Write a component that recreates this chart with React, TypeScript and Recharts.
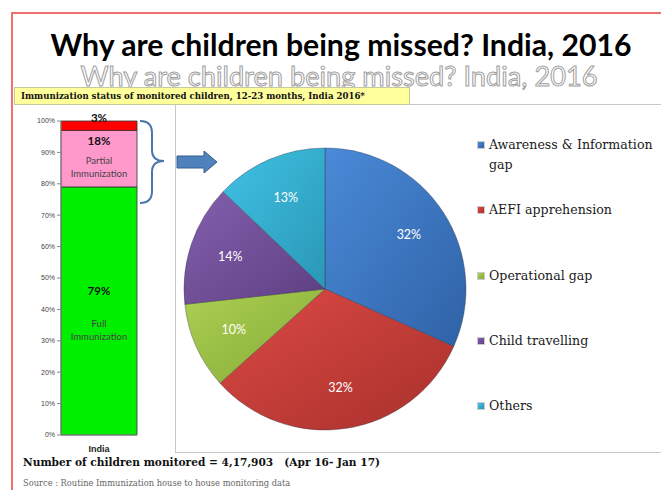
import React from "react";
import {
  BarChart, Bar, XAxis, YAxis, LabelList,
  PieChart, Pie, Cell,
} from "recharts";

// stacked bar: immunization status
const barCategories = ["India"];
const fullImmunization = [79];
const partialImmunization = [18];
const notImmunized = [3];
const yTicks = [0, 10, 20, 30, 40, 50, 60, 70, 80, 90, 100];

// pie: reasons children are missed
const reasonNames = [
  "Awareness & Information gap",
  "AEFI apprehension",
  "Operational gap",
  "Child travelling",
  "Others",
];
const reasonValues = [32, 32, 10, 14, 13];

const reasonColors = [
  ["#4a8ad8", "#2f62a6"],
  ["#dc4a44", "#a8302c"],
  ["#abd052", "#86aa36"],
  ["#8460ad", "#5e3f82"],
  ["#40c2e4", "#2a97b6"],
];

const barData = barCategories.map((c, i) => ({
  name: c,
  full: fullImmunization[i],
  partial: partialImmunization[i],
  none: notImmunized[i],
}));

const pieData = reasonNames.map((n, i) => ({ name: n, value: reasonValues[i] }));

const SERIF = "'DejaVu Serif', serif";
const LATO = "Lato, 'Open Sans', sans-serif";

// label lines for stacked segments: [text, dy from anchor, bold]
const makeSegLabel = (lines: [string, number, boolean][], anchor: "top" | "mid") => (p: any) => {
  const x = Number(p.x) + Number(p.width) / 2;
  const y0 = anchor === "top" ? Number(p.y) : Number(p.y) + Number(p.height) / 2;
  return (
    <g>
      {lines.map(([t, dy, b], k) => (
        <text
          key={k}
          x={x}
          y={y0 + dy}
          textAnchor="middle"
          dominantBaseline="central"
          fontFamily={LATO}
          fontSize={b ? 11.5 : 9.5}
          fontWeight={b ? 700 : 400}
          fill={b ? "#111" : "#444"}
        >
          {t === "%" ? `${p.value}%` : t}
        </text>
      ))}
    </g>
  );
};

const RAD = Math.PI / 180;
const renderPieLabel = (p: any) => {
  const r = 100;
  const x = p.cx + r * Math.cos(-p.midAngle * RAD);
  const y = p.cy + r * Math.sin(-p.midAngle * RAD);
  return (
    <text x={x} y={y} textAnchor="middle" dominantBaseline="central"
      fill="#fff" fontFamily={LATO} fontSize={12.5}>
      {`${p.value}%`}
    </text>
  );
};

export default function App() {
  return (
    <div style={{
      position: "absolute", left: 0, top: 0, width: 661, height: 490,
      background: "#fff", overflow: "hidden",
    }}>
      {/* slide frame */}
      <div style={{
        position: "absolute", left: 11, top: 12, width: 700, height: 520,
        border: "2px solid #f07070", boxSizing: "border-box",
      }} />

      <div style={{
        position: "absolute", left: 0, top: 25, width: 682, textAlign: "center",
        fontFamily: LATO, fontWeight: 700, fontSize: 30.2, color: "#000", lineHeight: "38px",
      }}>
        Why are children being missed? India, 2016
      </div>
      <div style={{
        position: "absolute", left: 0, top: 59, width: 678, textAlign: "center",
        fontFamily: LATO, fontWeight: 400, fontSize: 27.2, color: "#fff", lineHeight: "34px",
        WebkitTextStroke: "1px #a0a0a0",
      }}>
        Why are children being missed? India, 2016
      </div>

      {/* pie panel border */}
      <div style={{
        position: "absolute", left: 175, top: 104, width: 520, height: 349,
        border: "1px solid #c8c8c8", boxSizing: "border-box",
      }} />

      {/* header box */}
      <div style={{
        position: "absolute", left: 14, top: 87, width: 396, height: 18,
        background: "#ffff9c", border: "1px solid #c8c8a0", boxSizing: "border-box",
        fontFamily: SERIF, fontWeight: 700, fontSize: 8.6, lineHeight: "16px",
        paddingLeft: 6, color: "#111", whiteSpace: "nowrap",
      }}>
        Immunization status of monitored children, 12-23 months, India 2016*
      </div>

      <div style={{ position: "absolute", left: 0, top: 100 }}>
        <BarChart width={150} height={360} data={barData}
          margin={{ top: 21, right: 13, left: 0, bottom: 5 }} barCategoryGap={0}>
          <XAxis dataKey="name" height={20} axisLine={{ stroke: "#888" }} tickLine={false} tickMargin={5}
            tick={{ fontSize: 9, fill: "#222", fontFamily: "Liberation Sans, Arial", fontWeight: 700 }} />
          <YAxis width={61} domain={[0, 100]} ticks={yTicks} interval={0}
            tickFormatter={(v: number) => `${v}%`}
            axisLine={{ stroke: "#888" }} tickLine={{ stroke: "#888" }} tickSize={4} tickMargin={2}
            tick={{ fontSize: 7, fill: "#444", fontFamily: "Liberation Sans, Arial" }} />
          <Bar dataKey="full" stackId="a" fill="#00f000" stroke="#333" strokeWidth={0.8} isAnimationActive={false}>
            <LabelList dataKey="full" content={makeSegLabel([["%", -20, true], ["Full", 13, false], ["Immunization", 26, false]], "mid")} />
          </Bar>
          <Bar dataKey="partial" stackId="a" fill="#ff99cc" stroke="#333" strokeWidth={0.8} isAnimationActive={false}>
            <LabelList dataKey="partial" content={makeSegLabel([["%", 10, true], ["Partial", 30, false], ["Immunization", 43, false]], "top")} />
          </Bar>
          <Bar dataKey="none" stackId="a" fill="#ff0000" stroke="#333" strokeWidth={0.8} isAnimationActive={false}>
            <LabelList dataKey="none" content={makeSegLabel([["%", -4, true]], "top")} />
          </Bar>
        </BarChart>
      </div>

      {/* brace and arrow */}
      <svg style={{ position: "absolute", left: 0, top: 0 }} width={661} height={490}>
        <path d="M140,121 Q152,121 152,133 L152,150 Q152,161 164,161 Q152,161 152,172 L152,191 Q152,203 140,203"
          fill="none" stroke="#4a76aa" strokeWidth={2} />
        <polygon points="177,156 204,156 204,151 217,162 204,173 204,168 177,168"
          fill="#4f81bd" stroke="#385d8a" strokeWidth={1} />
      </svg>

      <div style={{ position: "absolute", left: 176, top: 104 }}>
        <PieChart width={300} height={346} margin={{ top: 0, right: 0, bottom: 0, left: 0 }}>
          <defs>
            {reasonColors.map(([a, b], i) => (
              <linearGradient key={i} id={`pg${i}`} x1="0" y1="0" x2="1" y2="1">
                <stop offset="0%" stopColor={a} />
                <stop offset="100%" stopColor={b} />
              </linearGradient>
            ))}
          </defs>
          <Pie data={pieData} dataKey="value" cx={149} cy={185} outerRadius={141}
            startAngle={90} endAngle={-270} label={renderPieLabel} labelLine={false}
            stroke="rgba(40,40,60,0.35)" strokeWidth={1} isAnimationActive={false}>
            {pieData.map((d, i) => (
              <Cell key={d.name} fill={`url(#pg${i})`} />
            ))}
          </Pie>
        </PieChart>
      </div>

      {/* legend */}
      {reasonNames.map((n, i) => (
        <div key={n} style={{
          position: "absolute", left: 477, top: 135 + i * 65.3, width: 184,
          display: "flex", alignItems: "flex-start",
        }}>
          <div style={{
            width: 8, height: 8, marginTop: 6, marginRight: 4, flexShrink: 0,
            background: `linear-gradient(135deg, ${reasonColors[i][0]}, ${reasonColors[i][1]})`,
            border: "1px solid #ccc", boxSizing: "border-box",
          }} />
          <div style={{ fontFamily: SERIF, fontSize: 12.6, lineHeight: "20px", color: "#1a1a1a", width: 172 }}>
            {n}
          </div>
        </div>
      ))}

      <div style={{
        position: "absolute", left: 23, top: 456, fontFamily: SERIF, fontWeight: 700,
        fontSize: 10.6, color: "#111", whiteSpace: "pre",
      }}>
        {"Number of children monitored = 4,17,903   (Apr 16- Jan 17)"}
      </div>
      <div style={{
        position: "absolute", left: 23, top: 478, fontFamily: SERIF,
        fontSize: 8.3, color: "#666", whiteSpace: "nowrap",
      }}>
        Source : Routine Immunization house to house monitoring data
      </div>
    </div>
  );
}
